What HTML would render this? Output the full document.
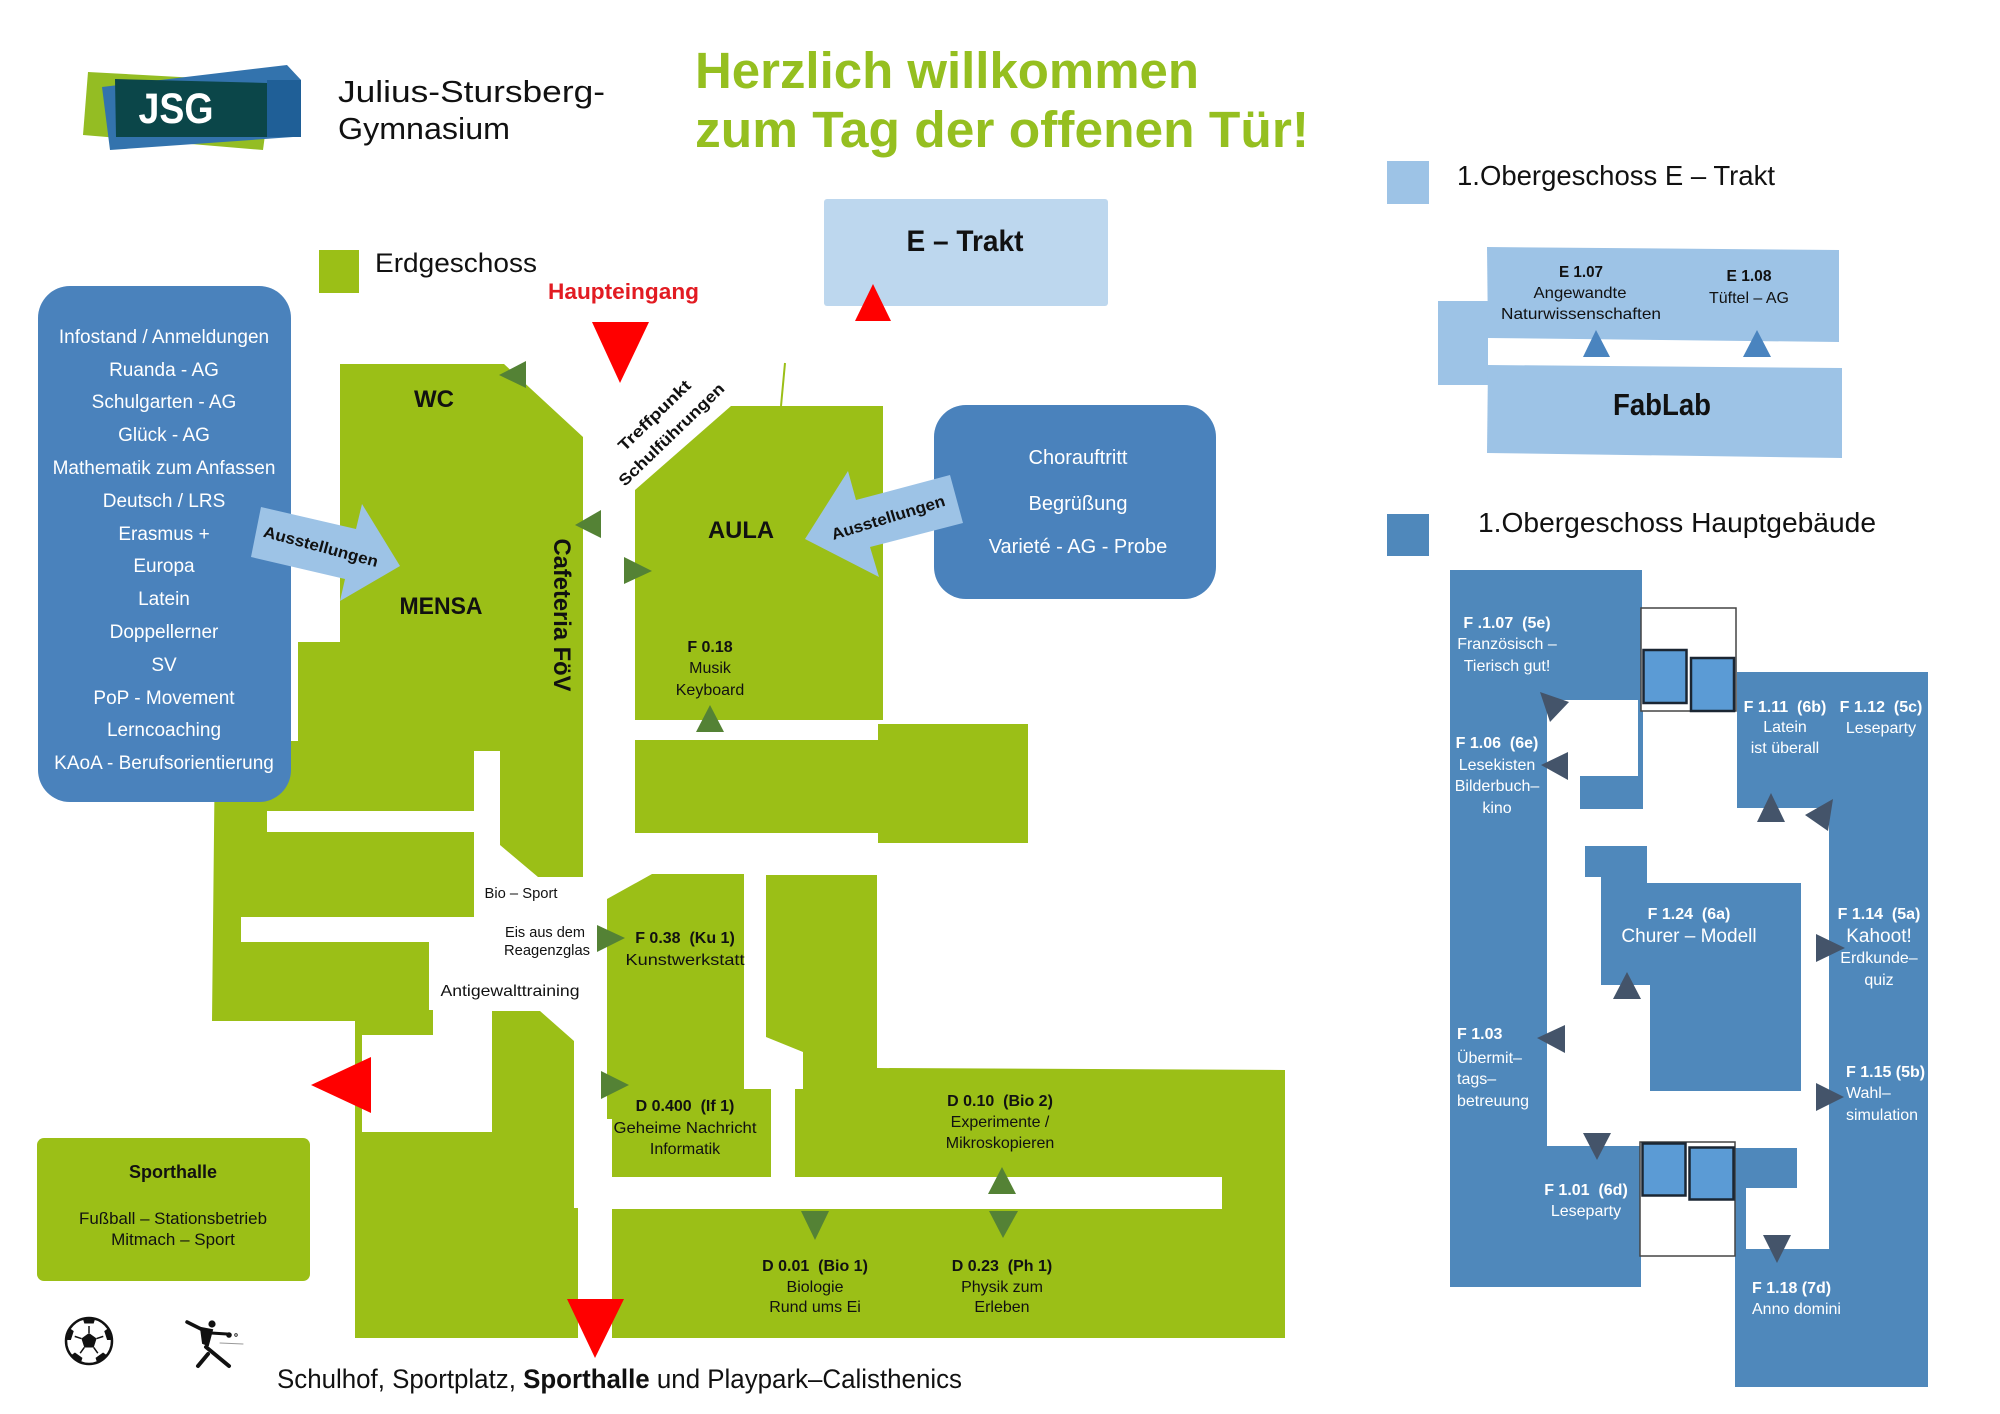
<!DOCTYPE html>
<html><head><meta charset="utf-8"><style>
html,body{margin:0;padding:0;background:#fff;}
svg{display:block;}
text{font-family:"Liberation Sans",Arial,sans-serif;}
</style></head><body>
<svg width="2000" height="1414" viewBox="0 0 2000 1414" xmlns="http://www.w3.org/2000/svg">
<rect width="2000" height="1414" fill="#fff"/>

<!-- LOGO -->
<polygon points="88,72 272,82 263,150 83,135" fill="#94bd23"/>
<polygon points="102,87 287,65 301,80 301,137 293,137 110,150" fill="#3373ad"/>
<rect x="267" y="80" width="34" height="57" fill="#1f5f97"/>
<polygon points="115,79 267,83 267,137 116,137" fill="#0b4649"/>
<text x="176" y="123" font-size="43" font-weight="bold" fill="#fff" text-anchor="middle" textLength="75" lengthAdjust="spacingAndGlyphs">JSG</text>
<text x="338" y="102" font-size="31" fill="#111" textLength="267" lengthAdjust="spacingAndGlyphs">Julius-Stursberg-</text>
<text x="338" y="139" font-size="31" fill="#111" textLength="172" lengthAdjust="spacingAndGlyphs">Gymnasium</text>

<!-- TITLE -->
<text x="695" y="88" font-size="51" font-weight="bold" fill="#95bf20" textLength="504" lengthAdjust="spacingAndGlyphs">Herzlich willkommen</text>
<text x="695" y="147" font-size="51" font-weight="bold" fill="#95bf20" textLength="614" lengthAdjust="spacingAndGlyphs">zum Tag der offenen Tür!</text>

<!-- Erdgeschoss legend -->
<rect x="319" y="250" width="40" height="43" fill="#9bbf17"/>
<text x="375" y="272" font-size="27" fill="#111" textLength="162" lengthAdjust="spacingAndGlyphs">Erdgeschoss</text>
<text x="548" y="299" font-size="22" font-weight="bold" fill="#e21b22" textLength="151" lengthAdjust="spacingAndGlyphs">Haupteingang</text>

<!-- E-Trakt box -->
<rect x="824" y="199" width="284" height="107" rx="3" fill="#bdd7ee"/>
<text x="965" y="251" font-size="30" font-weight="bold" fill="#111" text-anchor="middle" textLength="117" lengthAdjust="spacingAndGlyphs">E – Trakt</text>
<polygon points="873,284 891,321 855,321" fill="#ff0000"/>

<!-- GREEN FLOOR PLAN -->
<g fill="#9bbf17">
<polygon points="340,364 504,364 583,437 583,877 538,877 500,845 500,751 474,751 474,811 267,811 267,832 474,832 474,917 241,917 241,942 429,942 429,1010 433,1010 433,1035 362,1035 362,1132 492,1132 492,1011 540,1011 574,1041 574,1208 578,1208 578,1338 355,1338 355,1021 212,1021 215,741 298,741 298,642 340,642"/>
<polygon points="635,490 731,406 883,406 883,720 635,720"/>
<rect x="635" y="740" width="245" height="93"/>
<rect x="878" y="724" width="150" height="119"/>
<polygon points="607,899 652,874 744,874 744,1089 771,1089 771,1177 612,1177 612,1119 607,1119"/>
<polygon points="766,875 877,875 877,1068 1285,1070 1285,1338 612,1338 612,1209 1222,1209 1222,1177 795,1177 795,1089 803,1089 803,1052 766,1037"/>
<rect x="37" y="1138" width="273" height="143" rx="7"/>
</g>
<line x1="785" y1="363" x2="781" y2="406" stroke="#9bbf17" stroke-width="2"/>

<!-- Info box -->
<rect x="38" y="286" width="253" height="516" rx="32" fill="#4a82bc"/>
<g fill="#fff" font-size="19" text-anchor="middle">
<text x="164" y="343">Infostand / Anmeldungen</text>
<text x="164" y="376">Ruanda - AG</text>
<text x="164" y="408">Schulgarten - AG</text>
<text x="164" y="441">Glück - AG</text>
<text x="164" y="474">Mathematik zum Anfassen</text>
<text x="164" y="507">Deutsch / LRS</text>
<text x="164" y="540">Erasmus +</text>
<text x="164" y="572">Europa</text>
<text x="164" y="605">Latein</text>
<text x="164" y="638">Doppellerner</text>
<text x="164" y="671">SV</text>
<text x="164" y="704">PoP - Movement</text>
<text x="164" y="736">Lerncoaching</text>
<text x="164" y="769">KAoA - Berufsorientierung</text>
</g>

<!-- Chor box -->
<rect x="934" y="405" width="282" height="194" rx="32" fill="#4a82bc"/>
<g fill="#fff" font-size="20" text-anchor="middle">
<text x="1078" y="464">Chorauftritt</text>
<text x="1078" y="510">Begrüßung</text>
<text x="1078" y="553">Varieté - AG - Probe</text>
</g>

<!-- Ausstellungen arrows -->
<polygon points="261,507 356,529 362,504 400,566 340,601 345,579 251,557" fill="#9dc3e6"/>
<text x="321" y="552" font-size="16" font-weight="bold" fill="#111" text-anchor="middle" transform="rotate(15 321 546)" textLength="118" lengthAdjust="spacingAndGlyphs">Ausstellungen</text>
<polygon points="950,475 856,500 848,471 805,539 879,577 870,547 963,523" fill="#9dc3e6"/>
<text x="888" y="523" font-size="16" font-weight="bold" fill="#111" text-anchor="middle" transform="rotate(-17 888 517)" textLength="118" lengthAdjust="spacingAndGlyphs">Ausstellungen</text>

<!-- Red triangles -->
<polygon points="592,322 649,322 620,383" fill="#ff0000"/>
<polygon points="311,1085 371,1057 371,1113" fill="#ff0000"/>
<polygon points="567,1299 624,1299 595,1358" fill="#ff0000"/>

<!-- Dark green triangles -->
<g fill="#548235">
<polygon points="499,375 526,361 526,388"/>
<polygon points="575,525 601,510 601,538"/>
<polygon points="624,557 624,584 652,571"/>
<polygon points="710,705 724,732 696,732"/>
<polygon points="597,925 597,952 625,938"/>
<polygon points="601,1071 601,1099 629,1085"/>
<polygon points="1002,1167 1016,1194 988,1194"/>
<polygon points="801,1211 829,1211 815,1240"/>
<polygon points="989,1211 1018,1211 1003,1238"/>
</g>

<!-- Green plan labels -->
<g fill="#111">
<text x="434" y="407" font-size="24" font-weight="bold" text-anchor="middle">WC</text>
<text x="441" y="614" font-size="24" font-weight="bold" text-anchor="middle" textLength="83" lengthAdjust="spacingAndGlyphs">MENSA</text>
<text x="741" y="538" font-size="24" font-weight="bold" text-anchor="middle" textLength="66" lengthAdjust="spacingAndGlyphs">AULA</text>
<text x="562" y="615" font-size="24" font-weight="bold" text-anchor="middle" transform="rotate(90 562 615) translate(0 8)" textLength="153" lengthAdjust="spacingAndGlyphs">Cafeteria FöV</text>
<text x="654" y="421" font-size="16" font-weight="bold" text-anchor="middle" transform="rotate(-44 654 415)" textLength="94" lengthAdjust="spacingAndGlyphs">Treffpunkt</text>
<text x="671" y="440" font-size="16" font-weight="bold" text-anchor="middle" transform="rotate(-44 671 434)" textLength="140" lengthAdjust="spacingAndGlyphs">Schulführungen</text>

<text x="710" y="652" font-size="16" font-weight="bold" text-anchor="middle">F 0.18</text>
<text x="710" y="673" font-size="16" text-anchor="middle">Musik</text>
<text x="710" y="695" font-size="16" text-anchor="middle">Keyboard</text>

<text x="521" y="898" font-size="15" text-anchor="middle" textLength="73" lengthAdjust="spacingAndGlyphs">Bio – Sport</text>
<text x="545" y="937" font-size="15" text-anchor="middle" textLength="80" lengthAdjust="spacingAndGlyphs">Eis aus dem</text>
<text x="547" y="955" font-size="15" text-anchor="middle" textLength="86" lengthAdjust="spacingAndGlyphs">Reagenzglas</text>
<text x="510" y="996" font-size="16" text-anchor="middle" textLength="139" lengthAdjust="spacingAndGlyphs">Antigewalttraining</text>

<text x="685" y="943" font-size="16" font-weight="bold" text-anchor="middle" xml:space="preserve">F 0.38  (Ku 1)</text>
<text x="685" y="965" font-size="16" text-anchor="middle" textLength="119" lengthAdjust="spacingAndGlyphs">Kunstwerkstatt</text>
<text x="685" y="1111" font-size="16" font-weight="bold" text-anchor="middle" xml:space="preserve">D 0.400  (If 1)</text>
<text x="685" y="1133" font-size="16" text-anchor="middle" textLength="143" lengthAdjust="spacingAndGlyphs">Geheime Nachricht</text>
<text x="685" y="1154" font-size="16" text-anchor="middle">Informatik</text>
<text x="1000" y="1106" font-size="16" font-weight="bold" text-anchor="middle" xml:space="preserve">D 0.10  (Bio 2)</text>
<text x="1000" y="1127" font-size="16" text-anchor="middle">Experimente /</text>
<text x="1000" y="1148" font-size="16" text-anchor="middle">Mikroskopieren</text>
<text x="815" y="1271" font-size="16" font-weight="bold" text-anchor="middle" xml:space="preserve">D 0.01  (Bio 1)</text>
<text x="815" y="1292" font-size="16" text-anchor="middle">Biologie</text>
<text x="815" y="1312" font-size="16" text-anchor="middle">Rund ums Ei</text>
<text x="1002" y="1271" font-size="16" font-weight="bold" text-anchor="middle" xml:space="preserve">D 0.23  (Ph 1)</text>
<text x="1002" y="1292" font-size="16" text-anchor="middle">Physik zum</text>
<text x="1002" y="1312" font-size="16" text-anchor="middle">Erleben</text>

<text x="173" y="1178" font-size="18" font-weight="bold" text-anchor="middle">Sporthalle</text>
<text x="173" y="1224" font-size="17" text-anchor="middle" textLength="188" lengthAdjust="spacingAndGlyphs">Fußball – Stationsbetrieb</text>
<text x="173" y="1245" font-size="17" text-anchor="middle">Mitmach – Sport</text>

<text x="277" y="1388" font-size="27" textLength="685" lengthAdjust="spacingAndGlyphs">Schulhof, Sportplatz, <tspan font-weight="bold">Sporthalle</tspan> und Playpark–Calisthenics</text>
</g>

<!-- Soccer ball -->
<g transform="translate(89,1341)">
<defs><clipPath id="bc"><circle r="22"/></clipPath></defs>
<circle r="23" fill="#fff" stroke="#111" stroke-width="2.5"/>
<polygon points="0,-8 7.6,-2.5 4.7,6.5 -4.7,6.5 -7.6,-2.5" fill="#111"/>
<g clip-path="url(#bc)" fill="#111" stroke="#111" stroke-width="1.5">
<g transform="rotate(0)"><line x1="0" y1="-8" x2="0" y2="-15"/><polygon points="0,-28 6.7,-23.2 4.1,-15.3 -4.1,-15.3 -6.7,-23.2" transform="translate(0,-3)"/></g>
<g transform="rotate(72)"><line x1="0" y1="-8" x2="0" y2="-15"/><polygon points="0,-28 6.7,-23.2 4.1,-15.3 -4.1,-15.3 -6.7,-23.2" transform="translate(0,-3)"/></g>
<g transform="rotate(144)"><line x1="0" y1="-8" x2="0" y2="-15"/><polygon points="0,-28 6.7,-23.2 4.1,-15.3 -4.1,-15.3 -6.7,-23.2" transform="translate(0,-3)"/></g>
<g transform="rotate(216)"><line x1="0" y1="-8" x2="0" y2="-15"/><polygon points="0,-28 6.7,-23.2 4.1,-15.3 -4.1,-15.3 -6.7,-23.2" transform="translate(0,-3)"/></g>
<g transform="rotate(288)"><line x1="0" y1="-8" x2="0" y2="-15"/><polygon points="0,-28 6.7,-23.2 4.1,-15.3 -4.1,-15.3 -6.7,-23.2" transform="translate(0,-3)"/></g>
</g>
</g>

<!-- Sports figure -->
<g stroke="#111" stroke-linecap="round" fill="none">
<line x1="187" y1="1322" x2="201" y2="1329" stroke-width="3.5"/>
<polygon points="201,1328 212,1330 208,1345 203,1343" fill="#111" stroke-width="2"/>
<line x1="211" y1="1333" x2="227" y2="1334" stroke-width="3"/>
<line x1="206" y1="1347" x2="229" y2="1366" stroke-width="4"/>
<line x1="208" y1="1354" x2="198" y2="1366" stroke-width="4"/>
<line x1="220" y1="1343" x2="243" y2="1344" stroke="#999" stroke-width="1"/>
<circle cx="236" cy="1335" r="1.3" stroke-width="0.8"/>
</g>
<circle cx="212" cy="1324" r="3.6" fill="#111"/>
<circle cx="229" cy="1335" r="2.8" fill="#111"/>

<!-- RIGHT: E-Trakt 1.OG -->
<rect x="1387" y="161" width="42" height="43" fill="#9dc3e6"/>
<text x="1457" y="185" font-size="28" fill="#111" textLength="318" lengthAdjust="spacingAndGlyphs">1.Obergeschoss E – Trakt</text>
<g fill="#9dc3e6">
<polygon points="1487,247 1839,250 1839,342 1488,338"/>
<rect x="1438" y="301" width="50" height="84"/>
<polygon points="1488,365 1842,368 1842,458 1487,453"/>
</g>
<g fill="#4a84bf">
<polygon points="1596,330 1610,357 1583,357"/>
<polygon points="1757,330 1771,357 1743,357"/>
</g>
<g fill="#111" text-anchor="middle">
<text x="1581" y="277" font-size="16" font-weight="bold" textLength="44" lengthAdjust="spacingAndGlyphs">E 1.07</text>
<text x="1580" y="298" font-size="16" textLength="93" lengthAdjust="spacingAndGlyphs">Angewandte</text>
<text x="1581" y="319" font-size="16" textLength="160" lengthAdjust="spacingAndGlyphs">Naturwissenschaften</text>
<text x="1749" y="281" font-size="16" font-weight="bold" textLength="45" lengthAdjust="spacingAndGlyphs">E 1.08</text>
<text x="1749" y="303" font-size="16" textLength="80" lengthAdjust="spacingAndGlyphs">Tüftel – AG</text>
<text x="1662" y="415" font-size="31" font-weight="bold" textLength="98" lengthAdjust="spacingAndGlyphs">FabLab</text>
</g>

<!-- RIGHT: Hauptgebäude 1.OG -->
<rect x="1387" y="514" width="42" height="42" fill="#4f88bb"/>
<text x="1478" y="532" font-size="28" fill="#111" textLength="398" lengthAdjust="spacingAndGlyphs">1.Obergeschoss Hauptgebäude</text>
<g fill="#4f88bb">
<rect x="1450" y="570" width="192" height="130"/>
<rect x="1450" y="570" width="97" height="576"/>
<rect x="1450" y="1146" width="191" height="141"/>
<rect x="1638" y="700" width="5" height="109"/>
<rect x="1580" y="776" width="63" height="33"/>
<rect x="1737" y="672" width="190" height="136"/>
<rect x="1829" y="672" width="99" height="715"/>
<rect x="1735" y="1249" width="193" height="138"/>
<rect x="1735" y="1148" width="62" height="40"/>
<rect x="1735" y="1148" width="11" height="101"/>
<polygon points="1585,846 1647,846 1647,883 1801,883 1801,1091 1650,1091 1650,985 1601,985 1601,877 1585,877"/>
</g>
<!-- stair boxes -->
<rect x="1641" y="608" width="95" height="103" fill="#fff" stroke="#444" stroke-width="1.5"/>
<rect x="1643.5" y="650" width="43" height="53" fill="#5b9bd5" stroke="#1b2633" stroke-width="2.5"/>
<rect x="1691" y="658" width="43" height="53" fill="#5b9bd5" stroke="#1b2633" stroke-width="2.5"/>
<rect x="1640" y="1142" width="95" height="114" fill="#fff" stroke="#444" stroke-width="1.5"/>
<rect x="1642.5" y="1143.5" width="43" height="52" fill="#5b9bd5" stroke="#1b2633" stroke-width="2.5"/>
<rect x="1689.5" y="1147.5" width="44" height="52" fill="#5b9bd5" stroke="#1b2633" stroke-width="2.5"/>

<g fill="#44546a">
<polygon points="1540,692 1569,702 1550,722"/>
<polygon points="1541,765 1568,752 1568,780"/>
<polygon points="1771,793 1785,822 1757,822"/>
<polygon points="1805,815 1833,799 1828,831"/>
<polygon points="1627,972 1641,999 1613,999"/>
<polygon points="1816,934 1816,962 1845,948"/>
<polygon points="1537,1038 1565,1025 1565,1053"/>
<polygon points="1816,1083 1816,1111 1844,1097"/>
<polygon points="1583,1133 1611,1133 1597,1160"/>
<polygon points="1763,1235 1791,1235 1777,1263"/>
</g>

<g fill="#fff" font-size="16">
<g text-anchor="middle">
<text x="1507" y="628" font-weight="bold" xml:space="preserve">F .1.07  (5e)</text>
<text x="1507" y="649">Französisch –</text>
<text x="1507" y="671">Tierisch gut!</text>
<text x="1497" y="748" font-weight="bold" xml:space="preserve">F 1.06  (6e)</text>
<text x="1497" y="770">Lesekisten</text>
<text x="1497" y="791">Bilderbuch–</text>
<text x="1497" y="813">kino</text>
<text x="1785" y="712" font-weight="bold" xml:space="preserve">F 1.11  (6b)</text>
<text x="1785" y="732">Latein</text>
<text x="1785" y="753">ist überall</text>
<text x="1881" y="712" font-weight="bold" xml:space="preserve">F 1.12  (5c)</text>
<text x="1881" y="733">Leseparty</text>
<text x="1689" y="919" font-weight="bold" xml:space="preserve">F 1.24  (6a)</text>
<text x="1689" y="942" font-size="19">Churer – Modell</text>
<text x="1879" y="919" font-weight="bold" xml:space="preserve">F 1.14  (5a)</text>
<text x="1879" y="942" font-size="19">Kahoot!</text>
<text x="1879" y="963">Erdkunde–</text>
<text x="1879" y="985">quiz</text>
<text x="1586" y="1195" font-weight="bold" xml:space="preserve">F 1.01  (6d)</text>
<text x="1586" y="1216">Leseparty</text>
</g>
<text x="1457" y="1039" font-weight="bold">F 1.03</text>
<text x="1457" y="1063">Übermit–</text>
<text x="1457" y="1084">tags–</text>
<text x="1457" y="1106">betreuung</text>
<text x="1846" y="1077" font-weight="bold">F 1.15 (5b)</text>
<text x="1846" y="1098">Wahl–</text>
<text x="1846" y="1120">simulation</text>
<text x="1752" y="1293" font-weight="bold">F 1.18 (7d)</text>
<text x="1752" y="1314">Anno domini</text>
</g>

</svg>
</body></html>
